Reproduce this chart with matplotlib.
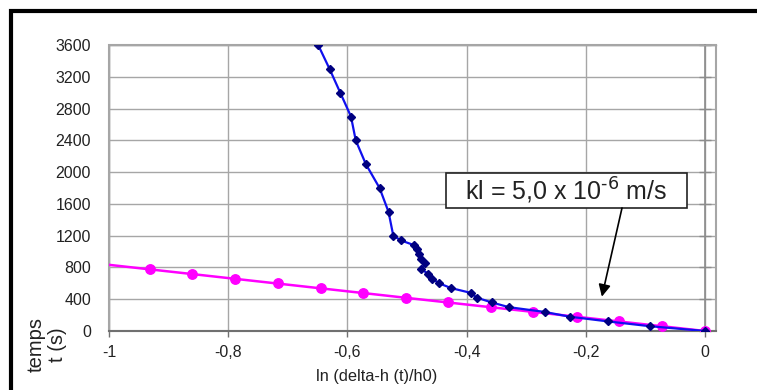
import matplotlib
matplotlib.use("Agg")
import matplotlib.pyplot as plt
from matplotlib.lines import Line2D
from matplotlib.patches import Rectangle
from matplotlib.ticker import FuncFormatter

plt.rcParams['font.family'] = ['Liberation Sans', 'DejaVu Sans']
plt.rcParams['axes.unicode_minus'] = False
plt.rcParams['mathtext.default'] = 'regular'

# ---- data ----
x_mesure = [-0.649, -0.630, -0.612, -0.594, -0.586, -0.569, -0.546, -0.531,
            -0.523, -0.510, -0.488, -0.484, -0.480, -0.477, -0.469, -0.477,
            -0.464, -0.458, -0.446, -0.426, -0.393, -0.383, -0.358, -0.329,
            -0.269, -0.227, -0.162, -0.092, 0.0]
t_mesure = [3600, 3300, 3000, 2700, 2400, 2100, 1800, 1500,
            1200, 1140, 1080, 1030, 970, 910, 850, 780,
            720, 660, 600, 540, 480, 420, 360, 300,
            240, 180, 120, 60, 0]

x_theo = [-0.931, -0.860, -0.788, -0.716, -0.644, -0.573, -0.502,
          -0.431, -0.359, -0.288, -0.215, -0.144, -0.072, 0.0]
t_theo = [776, 717, 658, 600, 537, 478, 419, 360, 299, 240, 179, 120, 60, 0]

x_fit = [-1.0, 0.0]
t_fit = [833, 0]

x_ticks = [-1.0, -0.8, -0.6, -0.4, -0.2, 0.0]
y_ticks = [0, 400, 800, 1200, 1600, 2000, 2400, 2800, 3200, 3600]

annot_text = r"kl = 5,0 x 10$^{\text{-6}}$ m/s"
x_label = "ln (delta-h (t)/h0)"
y_label = "temps\nt (s)"

W, H = 757, 390
fig = plt.figure(figsize=(W / 100, H / 100), dpi=100)
fig.patch.set_facecolor('white')
ax = fig.add_axes([109 / W, 1 - 331 / H, (716 - 109) / W, (331 - 45) / H])

ax.set_xlim(-1, 0.0185)
ax.set_ylim(0, 3600)
ax.set_xticks(x_ticks)
ax.set_yticks(y_ticks)

def fmt(v, pos):
    s = ('%g' % round(v, 3))
    if s == '-0':
        s = '0'
    return s.replace('.', ',')

ax.xaxis.set_major_formatter(FuncFormatter(fmt))
ax.yaxis.set_major_formatter(FuncFormatter(lambda v, p: '%d' % v))

grid_c = '#a6a6a6'
ax.grid(True, color=grid_c, linewidth=1.0)
ax.set_axisbelow(True)

for s in ['left', 'top']:
    ax.spines[s].set_color(grid_c)
    ax.spines[s].set_linewidth(1.0)
ax.spines['bottom'].set_color('#707070')
ax.spines['bottom'].set_linewidth(1.5)
ax.spines['right'].set_position(('data', 0))
ax.spines['right'].set_color('#8c8c8c')
ax.spines['right'].set_linewidth(1.2)
ax.patch.set_edgecolor(grid_c)
ax.patch.set_linewidth(1.5)

ax.tick_params(axis='y', left=False, right=True, labelleft=True, labelright=False,
               direction='inout', length=8, width=1, color='#8c8c8c',
               pad=9, labelsize=11.5, labelcolor='#222222')
ax.tick_params(axis='x', direction='out', length=4, width=1, color='#707070',
               pad=6, labelsize=11.5, labelcolor='#222222')

# series
ax.plot(x_fit, t_fit, color='#ff00ff', linewidth=1.8, zorder=3)
ax.plot(x_theo, t_theo, linestyle='none', marker='o', markersize=6.8,
        color='#ff00ff', zorder=4)
ax.plot(x_mesure, t_mesure, color='#1010ee', linewidth=1.6, marker='D',
        markersize=3.8, markerfacecolor='#000080', markeredgecolor='#000080',
        zorder=5)

# annotation box
rect = Rectangle((446 / W, 1 - 208 / H), 241 / W, 35 / H, transform=fig.transFigure,
                 facecolor='white', edgecolor='#222222', linewidth=1.2, zorder=6)
ax.add_patch(rect)
rect.set_clip_on(False)
fig.text(566 / W, 1 - 200 / H, annot_text, ha='center', va='baseline',
         fontsize=18, color='#222222', zorder=7)
ax.annotate('', xy=(-0.173, 432), xycoords='data',
            xytext=(622 / W, 1 - 208 / H), textcoords='figure fraction',
            arrowprops=dict(arrowstyle='-|>', color='black', lw=1.2,
                            mutation_scale=18, shrinkA=0, shrinkB=0),
            zorder=7, annotation_clip=False)

# axis titles
fig.text(377 / W, 1 - 377 / H, x_label, ha='center', va='center',
         fontsize=11.8, color='#222222')
fig.text(47 / W, 1 - 345 / H, y_label, ha='center', va='center', rotation=90,
         multialignment='center', fontsize=14.5, linespacing=1.15, color='#222222')

# outer thick frame (partially visible)
fig.add_artist(Line2D([11 / W, 11 / W, 1.02], [-0.02, 1 - 11 / H, 1 - 11 / H],
                      transform=fig.transFigure, color='black', linewidth=3,
                      solid_joinstyle='miter'))

fig.savefig('out.png', dpi=100)
